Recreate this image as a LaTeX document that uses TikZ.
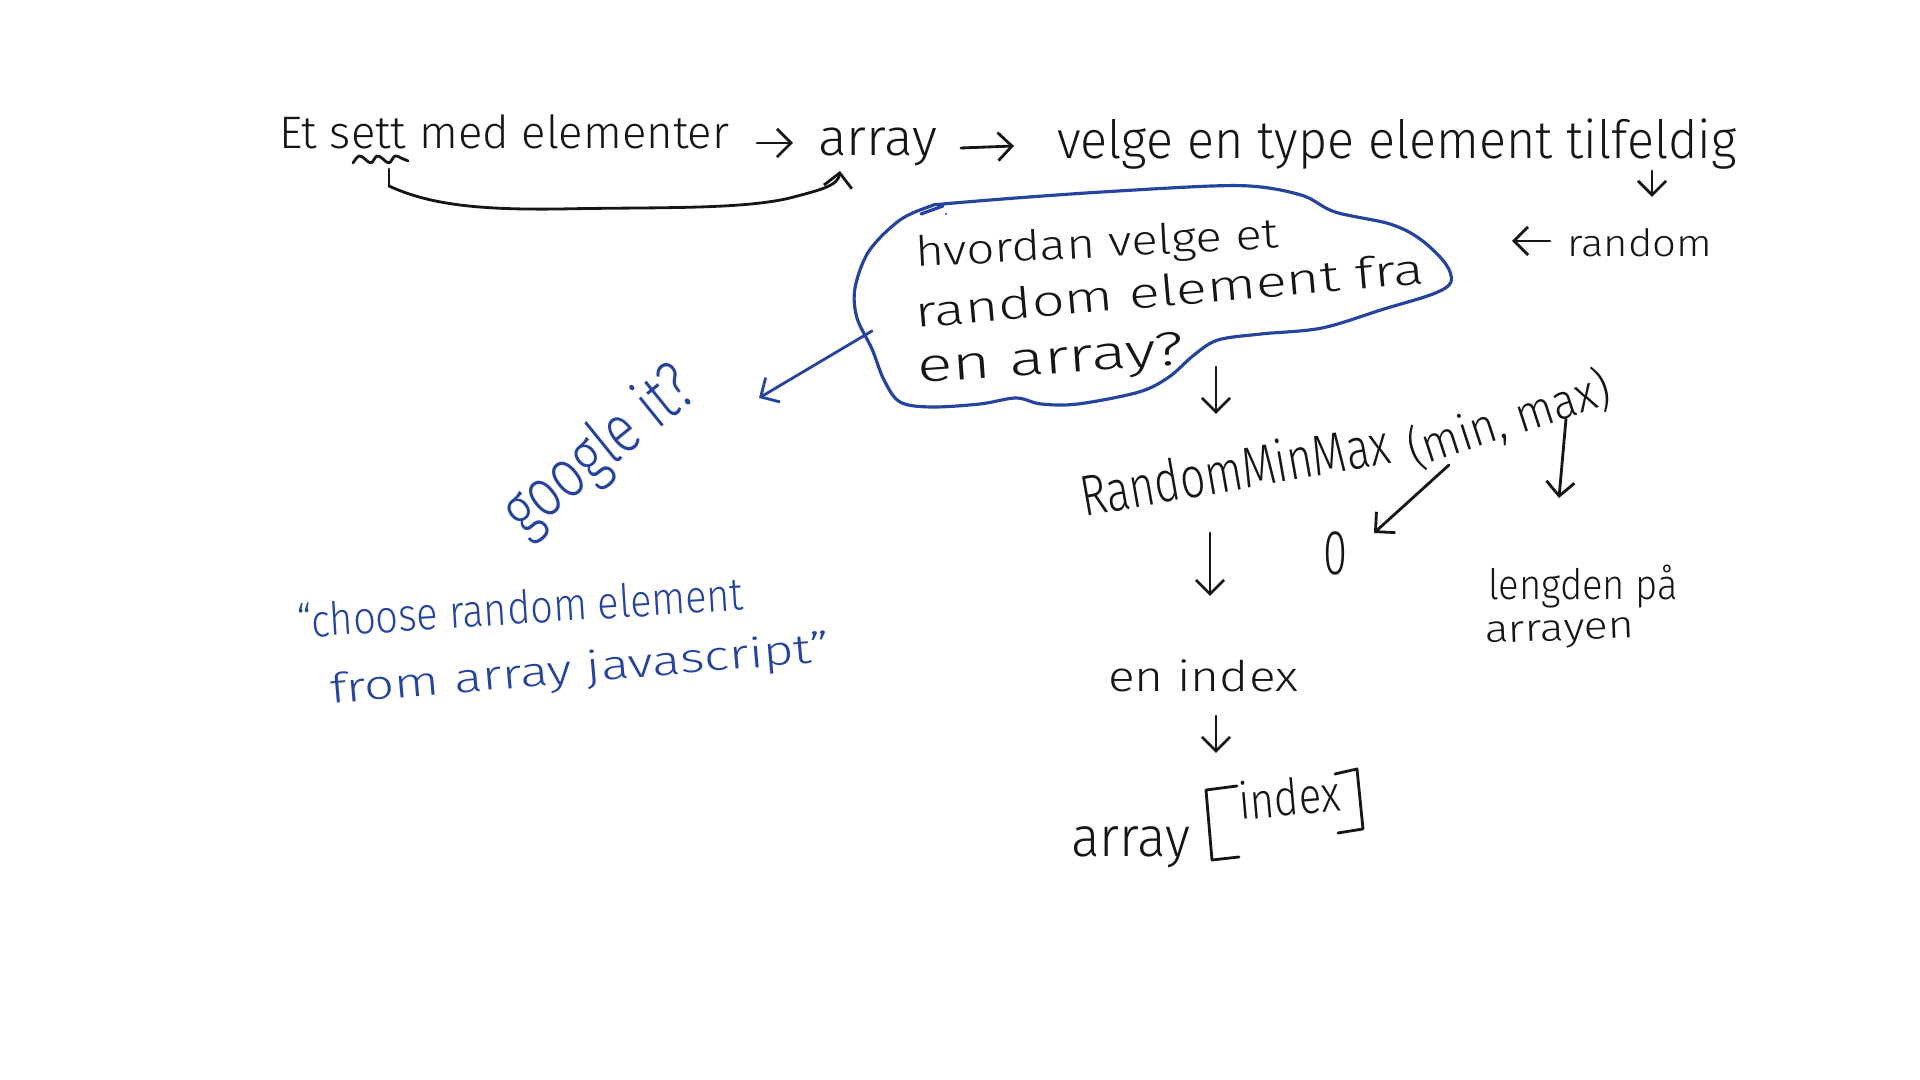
\documentclass[tikz,border=0pt]{standalone}
\usepackage{fontspec}
\usepackage{graphicx}
\setmainfont{Fira Sans}[UprightFont=* Light]
\usetikzlibrary{arrows.meta}
\definecolor{ink}{RGB}{22,22,22}
\definecolor{pen}{RGB}{38,68,158}
\newcommand{\hw}[3][1]{\resizebox{#2cm}{!}{\scalebox{1}[#1]{#3}}}
\tikzset{
 hand/.style={inner sep=0pt, outer sep=0pt, text=ink, font=\fontsize{20}{24}\selectfont},
 bluehand/.style={hand, text=pen},
 arr/.style={draw=ink, line width=0.8pt, line cap=round, line join=round, -{Straight Barb[length=4pt,width=8pt,line width=0.8pt]}},
 barr/.style={arr, draw=pen},
 cloudline/.style={draw=pen, line width=0.9pt, line cap=round, line join=round},
 inkline/.style={draw=ink, line width=0.8pt, line cap=round, line join=round},
}
\begin{document}
\begin{tikzpicture}[x=0.01cm,y=-0.01cm]
\useasboundingbox[fill=white] (0,0) rectangle (1920,1080);

% top row
\node[hand, anchor=base west] (t1) at (279,149) {\hw[1.0]{4.50}{Et sett med elementer}};
\node[hand, anchor=base west] (t2) at (818,156) {\hw[0.97]{1.19}{array}};
\node[hand, anchor=base west] (t3) at (1057,159) {\hw[1.05]{6.79}{velge en type element tilfeldig}};
\node[hand, anchor=base west] (rnd) at (1567,257) {\hw[0.9]{1.45}{random}};

\coordinate (a1s) at (757,143); \coordinate (a1e) at (793,143);
\coordinate (a2s) at (961,148); \coordinate (a2e) at (1014,146);
\draw[arr] (a1s) -- (a1e);
\draw[arr] (a2s) -- (a2e);
\coordinate (a3s) at (1652,171); \coordinate (a3e) at (1652,197);
\draw[arr] (a3s) -- (a3e);
\coordinate (a4s) at (1550,241); \coordinate (a4e) at (1512,241);
\draw[arr] (a4s) -- (a4e);

% tilde under sett and the link back to array
\draw[inkline] plot[smooth, tension=0.7] coordinates {(353,163)(359,156)(365,159)(371,163)(377,156)(383,159)(389,163)(395,156)(401,158)(408,161)};
\coordinate (c0) at (389,169);
\coordinate (c1) at (840,171);
\draw[inkline] (c0) -- (389,186);
\draw[arr] (389,186) .. controls (430,205) and (480,210) .. (560,209)
  .. controls (650,207) and (740,210) .. (790,198)
  .. controls (820,190) and (838,186) .. (c1);

% cloud
\draw[cloudline] plot[smooth cycle, tension=0.55] coordinates {
 (931,206)(900,220)(869,251)(855,288)(857,318)(872,349)(884,380)(900,402)
 (931,407)(980,404)(1016,398)(1041,404)(1078,404)(1139,392)(1169,377)
 (1194,355)(1218,340)(1261,334)(1322,328)(1384,309)(1433,294)(1451,282)
 (1445,263)(1420,239)(1390,224)(1335,212)(1304,196)(1261,187)(1212,186)
 (1102,192)(1016,198)(943,204)};
\draw[cloudline] (921,214) -- (943,206);
\fill[pen] (946,214) circle (1.2);

\node[hand, anchor=base west, rotate=3] (q1) at (916,267) {\hw[0.85]{3.64}{hvordan velge et}};
\node[hand, anchor=base west, rotate=5] (q2) at (916,328) {\hw[0.75]{5.11}{random element fra}};
\node[hand, anchor=base west, rotate=4] (q3) at (918,383) {\hw[0.72]{2.67}{en array?}};

% blue part
\coordinate (b1s) at (872,331); \coordinate (b1e) at (759,398);
\draw[barr] (b1s) -- (b1e);
\node[bluehand, rotate=39] (g) at (600,452) {\hw[1.3]{2.25}{google it?}};
\node[bluehand, anchor=base west, rotate=3.6] (s1) at (298,638) {\hw[1.15]{4.47}{“choose random element}};
\node[bluehand, anchor=base west, rotate=4.9] (s2) at (331,704) {\hw[0.78]{5.02}{from array javascript”}};

% RandomMinMax
\coordinate (d1s) at (1216,367); \coordinate (d1e) at (1216,414);
\draw[arr] (d1s) -- (d1e);
\node[hand, anchor=base west, rotate=10] (rmm) at (1084,517) {\hw[1.3]{3.13}{RandomMinMax}};
\node[hand, anchor=base west, rotate=18] (mm) at (1414,468) {\hw[1.1]{2.10}{(min, max)}};

\coordinate (d2s) at (1210,533); \coordinate (d2e) at (1210,596);
\draw[arr] (d2s) -- (d2e);
\node[hand] (zero) at (1335,553) {\hw[1.45]{0.24}{0}};
\coordinate (d3s) at (1449,465); \coordinate (d3e) at (1374,533);
\draw[arr] (d3s) -- (d3e);
\coordinate (d4s) at (1566,419); \coordinate (d4e) at (1559,498);
\draw[arr] (d4s) -- (d4e);

\node[hand, anchor=base west] (len1) at (1488,600) {\hw[1.1]{1.90}{lengden på}};
\node[hand, anchor=base west, rotate=2] (len2) at (1485,643) {\hw[0.85]{1.50}{arrayen}};

\node[hand, anchor=base west] (idx) at (1108,692) {\hw[0.85]{1.90}{en index}};
\coordinate (d5s) at (1216,716); \coordinate (d5e) at (1216,753);
\draw[arr] (d5s) -- (d5e);

\node[hand, anchor=base west] (arr2) at (1071,857) {\hw[1.05]{1.19}{array}};
\draw[inkline] (1237,786) -- (1206,790) -- (1212,860) -- (1239,857);
\node[hand, anchor=base west, rotate=5] (idx2) at (1240,820) {\hw[1.2]{1.02}{index}};
\draw[inkline] (1335,774) -- (1357,769) -- (1363,829) -- (1338,833);
\end{tikzpicture}
\end{document}
